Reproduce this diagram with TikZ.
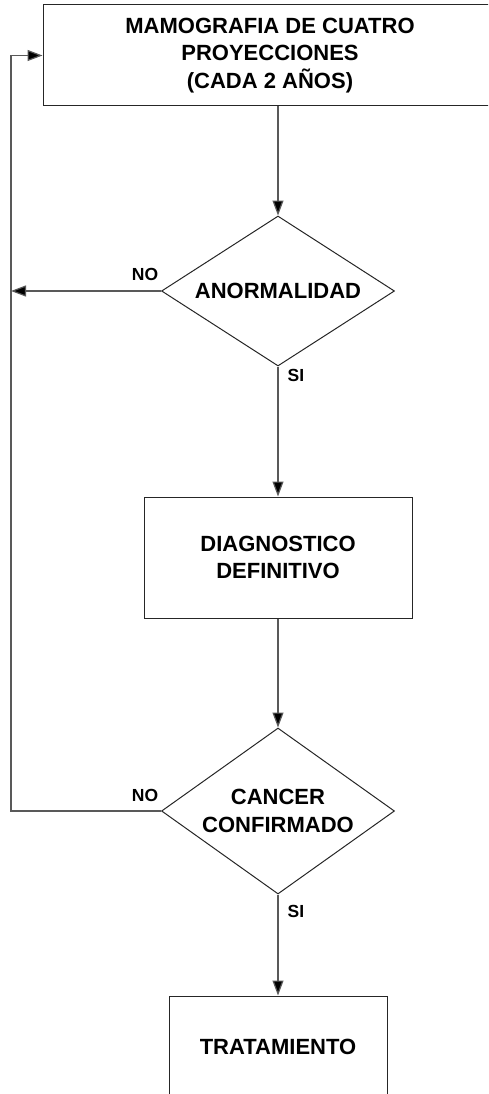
\documentclass[tikz,border=0pt]{standalone}
\usepackage{fontspec}
\setmainfont{Liberation Sans}
\usetikzlibrary{arrows.meta,shapes.geometric,positioning}
\tikzstyle{block}   =[rectangle, draw=black!85, line width=1pt,
                      align=center, inner sep=0pt,
                      font=\fontsize{22}{27.5}\selectfont\bfseries]
\tikzstyle{decision}=[diamond, aspect=1.5, draw=black!85, line width=1pt,
                      align=center, inner sep=0pt,
                      font=\fontsize{22}{27.5}\selectfont\bfseries]
\tikzstyle{edge}    =[draw=black!65, line width=1.2pt,
                      >={Triangle[length=15pt, width=11pt, fill=black]}]
\tikzstyle{answer}  =[inner sep=0pt, font=\fontsize{17.5}{20}\selectfont\bfseries]

\begin{document}
\begin{tikzpicture}[x=1pt, y=1pt, on grid]
    \useasboundingbox (0,0) rectangle (488,-1094);
    \clip (0,0) rectangle (488,-1094);

    \node (mamo) [block, minimum width=454pt, minimum height=101pt]
        at (270,-55.5) {MAMOGRAFIA DE CUATRO\\PROYECCIONES\\(CADA 2 AÑOS)};
    \node (anorm) [decision, minimum width=233pt, minimum height=150pt]
        at (278,-291) {ANORMALIDAD};
    \node (diag) [block, minimum width=268pt, minimum height=121pt,
        below=266.5pt of anorm] {DIAGNOSTICO\\DEFINITIVO};
    \node (cancer) [decision, minimum width=233pt, minimum height=166pt,
        below=253.5pt of diag] {CANCER\\CONFIRMADO};
    \node (trat) [block, minimum width=218pt, minimum height=102pt,
        below=236pt of cancer] {TRATAMIENTO};
    \coordinate (loop) at (11,0);

    \node (no1) [answer] at (145,-274) {NO};
    \node (si1) [answer] at (296,-375) {SI};
    \node (no2) [answer] at (145,-795) {NO};
    \node (si2) [answer] at (296,-911) {SI};

    \draw[edge, ->] (anorm.north |- mamo.south) -- (anorm.north);
    \draw[edge, ->] (anorm.west) -- (anorm.west -| loop);
    \draw[edge, ->] (anorm.south) -- (diag.north);
    \draw[edge, ->] (diag.south) -- (cancer.north);
    \draw[edge, ->] (cancer.south) -- (trat.north);
    \draw[edge, ->] (cancer.west) -| (mamo.west -| loop) -- (mamo.west);
\end{tikzpicture}
\end{document}
